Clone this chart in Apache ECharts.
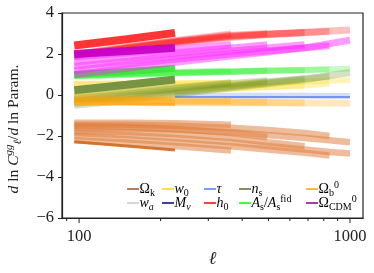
<!DOCTYPE html>
<html><head><meta charset="utf-8">
<script src="https://cdn.jsdelivr.net/npm/echarts@6/dist/echarts.min.js"></script>
<style>html,body{margin:0;padding:0;background:#fff}#c{width:374px;height:273px}</style>
</head><body><div id="c"></div>
<script>
// ---- data ----
const ell = [96, 150, 226, 364, 495, 680, 840, 1000];
const majorTickEll = [100, 1000];
const minorTickEll = [90, 200, 300, 400, 500, 600, 700, 800, 900];
const yMin = -6, yMax = 4, yStep = 2;

// each parameter: first array = first (dark) bin, then lighter bins; null = no value
const omegaK = [
  [-2.28, -2.48, -2.68],
  [-1.35, -1.35, -1.38, -1.45],
  [-1.5, -1.55, -1.65, -1.85, -2.05],
  [-1.75, -1.8, -1.9, -2.1, -2.3, -2.5],
  [-1.45, -1.45, -1.5, -1.6, -1.7, -1.85, -2.0],
  [-2.0, -2.15, -2.3, -2.5, -2.65, -2.82, -2.95],
  [-1.6, -1.62, -1.68, -1.8, -1.95, -2.1, -2.2, -2.3],
  [-1.85, -1.95, -2.1, -2.3, -2.48, -2.65, -2.78, -2.85],
  [-2.2, -2.32, -2.48, -2.7]
];
const wA = [[]];
const w0 = [
  [0.5, 0.52, 0.55],
  [0.55, 0.55, 0.56, 0.58],
  [0.45, 0.45, 0.47, 0.5, 0.52],
  [0.1, 0.15, 0.2, 0.3, 0.38, 0.45],
  [0.15, 0.2, 0.25, 0.33, 0.4, 0.48, 0.55],
  [0.55, 0.56, 0.58, 0.6, 0.63, 0.66, 0.7, 0.72]
];
const mNu = [[]];
const tau = [
  [null, null, -0.1, -0.1, -0.1, -0.1, -0.1, -0.1],
  [null, null, -0.02, -0.03, -0.03, -0.04, -0.05, -0.05]
];
const h0 = [
  [2.42, 2.72, 3.03],
  [1.98, 2.35, 2.65, 2.98],
  [1.96, 2.32, 2.62, 2.92, 3.0],
  [1.94, 2.3, 2.6, 2.88, 2.98, 3.05],
  [1.92, 2.28, 2.58, 2.85, 2.95, 3.05, 3.1],
  [1.9, 2.25, 2.55, 2.8, 2.95, 3.05, 3.12, 3.17]
];
const nS = [
  [0.23, 0.5, 0.76],
  [-0.1, 0.15, 0.35, 0.6],
  [-0.2, 0.05, 0.3, 0.55, 0.7],
  [-0.3, -0.05, 0.2, 0.45, 0.65, 0.8],
  [-0.4, -0.15, 0.1, 0.4, 0.6, 0.8, 0.9],
  [-0.5, -0.25, 0.05, 0.35, 0.55, 0.75, 0.95, 1.1]
];
const aS = [
  [1.0, 1.15, 1.3],
  [0.95, 1.05, 1.12, 1.2],
  [0.95, 1.03, 1.1, 1.15, 1.2],
  [0.93, 1.02, 1.08, 1.15, 1.2, 1.22],
  [0.92, 1.0, 1.07, 1.13, 1.18, 1.22, 1.25],
  [0.9, 0.98, 1.05, 1.12, 1.17, 1.22, 1.26, 1.28]
];
const omegaB = [
  [-0.42, -0.43, -0.45],
  [-0.1, -0.12, -0.15],
  [-0.25, -0.26, -0.28],
  [-0.2, -0.22, -0.25, -0.27],
  [-0.25, -0.27, -0.3, -0.32, -0.33],
  [-0.3, -0.31, -0.33, -0.35, -0.36, -0.37],
  [-0.35, -0.36, -0.37, -0.38, -0.38, -0.39, -0.39, -0.4]
];
const omegaCDM = [
  [2.0, 2.15, 2.3],
  [1.85, 2.05, 2.25, 2.45],
  [1.6, 1.85, 2.05, 2.3, 2.45],
  [1.4, 1.65, 1.9, 2.15, 2.3, 2.45],
  [1.2, 1.5, 1.75, 2.0, 2.15, 2.3, 2.4],
  [1.0, 1.3, 1.6, 1.9, 2.1, 2.3, 2.5, 2.68]
];

// ---- styles ----
const params = [
  {key:'Ωk', vals: omegaK, plot:'#dd7a36', dark:'#d2691e', dW:3, dO:0.9, lW:6.5, lO:0.5, leg:'#a0522d'},
  {key:'wa', vals: wA, plot:'#c0c0c0', dark:'#c0c0c0', dW:6, dO:0.9, lW:6, lO:0.5, leg:'#c8c8c8'},
  {key:'w0', vals: w0, plot:'#ffd700', dark:'#ffe68a', dW:7, dO:0.9, lW:6, lO:0.28, leg:'#ffd700'},
  {key:'Mν', vals: mNu, plot:'#000080', dark:'#000080', dW:6, dO:0.9, lW:6, lO:0.5, leg:'#000080'},
  {key:'τ', vals: tau, plot:'#4169e1', dark:'#4a70f0', dW:1.5, dO:0.9, lW:6, lO:0.22, leg:'#4d7cff'},
  {key:'h0', vals: h0, plot:'#ff0000', dark:'#ff2a2a', dW:8, dO:0.95, lW:7, lO:0.25, leg:'#ff0000'},
  {key:'ns', vals: nS, plot:'#6b8e23', dark:'#6f8f3e', dW:8, dO:0.95, lW:7, lO:0.28, leg:'#556b2f'},
  {key:'As', vals: aS, plot:'#22ee22', dark:'#3ae83a', dW:7, dO:0.95, lW:6, lO:0.25, leg:'#00ff00'},
  {key:'Ωb', vals: omegaB, plot:'#ffa500', dark:'#ffaa22', dW:3, dO:0.9, lW:7, lO:0.25, leg:'#ffa500'},
  {key:'ΩCDM', vals: omegaCDM, plot:'#ff22ff', dark:'#c800c8', dW:8, dO:0.95, lW:7, lO:0.45, leg:'#800080'}
];

const FONT = 'Liberation Serif, DejaVu Serif, serif';
const series = [];
params.forEach(p => {
  const bins = p.vals;
  const order = bins.slice(1).map(b => ({b, dark:false})).concat([{b: bins[0], dark:true}]);
  order.forEach(o => {
    const data = ell.map((x, i) => [x, o.b[i]]).filter(d => d[1] !== undefined && d[1] !== null);
    series.push({
      type: 'line', name: p.key, data, showSymbol: false, silent: true,
      animation: false, clip: true,
      lineStyle: o.dark
        ? {color: p.dark, width: p.dW, opacity: p.dO, cap: 'butt'}
        : {color: p.plot, width: p.lW, opacity: p.lO, cap: 'butt'},
      itemStyle: {color: p.leg}
    });
  });
});

// tick marks drawn through the x scale
function tickSeries(vals, len) {
  return {
    type: 'custom', silent: true, animation: false, clip: false, z: 10,
    data: vals.map(v => [v, yMin]),
    renderItem: (params, api) => {
      const pt = api.coord([api.value(0), yMin]);
      return {type: 'line', shape: {x1: pt[0], y1: pt[1], x2: pt[0], y2: pt[1] + len},
              style: {stroke: '#222', lineWidth: 1}};
    }
  };
}
series.push(tickSeries(majorTickEll, 5));
series.push(tickSeries(minorTickEll, 3));

const rich = {
  i: {fontStyle: 'italic', fontFamily: FONT, fontSize: 14, lineHeight: 18, color: '#222'},
  n: {fontFamily: FONT, fontSize: 14, lineHeight: 18, color: '#222'},
  sb: {fontFamily: FONT, fontSize: 10, lineHeight: 9, verticalAlign: 'bottom', color: '#222'},
  sbi: {fontFamily: FONT, fontStyle: 'italic', fontSize: 10, lineHeight: 9, verticalAlign: 'bottom', color: '#222'},
  sp: {fontFamily: FONT, fontSize: 10, lineHeight: 9, verticalAlign: 'top', color: '#222'}
};
const legendText = {
  'Ωk': '{n|Ω}{sb|k}',
  'wa': '{i|w}{sbi|a}',
  'w0': '{i|w}{sb|0}',
  'Mν': '{i|M}{sbi|ν}',
  'τ': '{i|τ}',
  'h0': '{i|h}{sb|0}',
  'ns': '{i|n}{sb|s}',
  'As': '{i|A}{sb|s}{n|/}{i|A}{sb|s}{sp|fid}',
  'Ωb': '{n|Ω}{sb|b}{sp|0}',
  'ΩCDM': '{n|Ω}{sb|CDM}{sp|0}'
};
const legendCols = [['Ωk','wa'],['w0','Mν'],['τ','h0'],['ns','As'],['Ωb','ΩCDM']];
const legendX = [127, 162, 204, 239, 306];
const legendY = [189, 203];
const graphics = [];
legendCols.forEach((col, ci) => col.forEach((k, ri) => {
  const p = params.find(q => q.key === k);
  const x = legendX[ci], y = legendY[ri];
  graphics.push({type: 'line', shape: {x1: x, y1: y, x2: x + 12, y2: y}, style: {stroke: p.leg, lineWidth: 1.5}, silent: true});
  graphics.push({type: 'text', x: x + 12.5, y: y, style: {text: legendText[k], rich, verticalAlign: 'middle', align: 'left'}, silent: true});
}));
// y-axis title
graphics.push({
  type: 'text', x: 14, y: 129, rotation: Math.PI / 2, silent: true,
  style: {
    text: '{i|d} ln {i|C}{sp|gg}{sb|ℓ}{n|/}{i|d} ln Param.', align: 'center', verticalAlign: 'middle',
    fontFamily: FONT, fontSize: 15.5, fill: '#222',
    rich: {
      i: {fontStyle: 'italic', fontFamily: FONT, fontSize: 15.5, lineHeight: 20, color: '#222'},
      n: {fontFamily: FONT, fontSize: 15.5, lineHeight: 20, color: '#222'},
      sb: {fontFamily: FONT, fontStyle: 'italic', fontSize: 11, lineHeight: 9, verticalAlign: 'bottom', color: '#222'},
      sp: {fontFamily: FONT, fontStyle: 'italic', fontSize: 11, lineHeight: 9, verticalAlign: 'top', color: '#222'}
    }
  }
});

const chart = echarts.init(document.getElementById('c'), null, {renderer: 'canvas'});
chart.setOption({
  animation: false,
  backgroundColor: '#fff',
  grid: {left: 62, right: 11, top: 13, bottom: 52, show: true, borderColor: '#222', borderWidth: 1.2, backgroundColor: 'transparent'},
  xAxis: {
    type: 'log', logBase: 10, min: 86.5, max: 1117,
    axisLine: {onZero: false, lineStyle: {color: '#222', width: 1.2}},
    axisTick: {show: false},
    splitLine: {show: false},
    axisLabel: {
      margin: 10, color: '#222', fontFamily: FONT, fontSize: 16.5,
      showMinLabel: false, showMaxLabel: false,
      formatter: v => { const l = Math.log10(v); return Math.abs(l - Math.round(l)) < 1e-6 ? String(Math.round(Math.pow(10, Math.round(l)))) : ''; }
    },
    name: 'ℓ', nameLocation: 'middle', nameGap: 30,
    nameTextStyle: {fontFamily: FONT, fontStyle: 'italic', fontSize: 18, color: '#222'}
  },
  yAxis: {
    type: 'value', min: yMin, max: yMax, interval: yStep,
    axisLine: {show: true, onZero: false, lineStyle: {color: '#222', width: 1.2}},
    axisTick: {show: true, length: 4, lineStyle: {color: '#222'}},
    splitLine: {show: false},
    axisLabel: {margin: 8, color: '#222', fontFamily: FONT, fontSize: 16.5, formatter: v => (v < 0 ? '−' + Math.abs(v) : String(v))}
  },
  graphic: graphics,
  series
});
</script>
</body></html>
